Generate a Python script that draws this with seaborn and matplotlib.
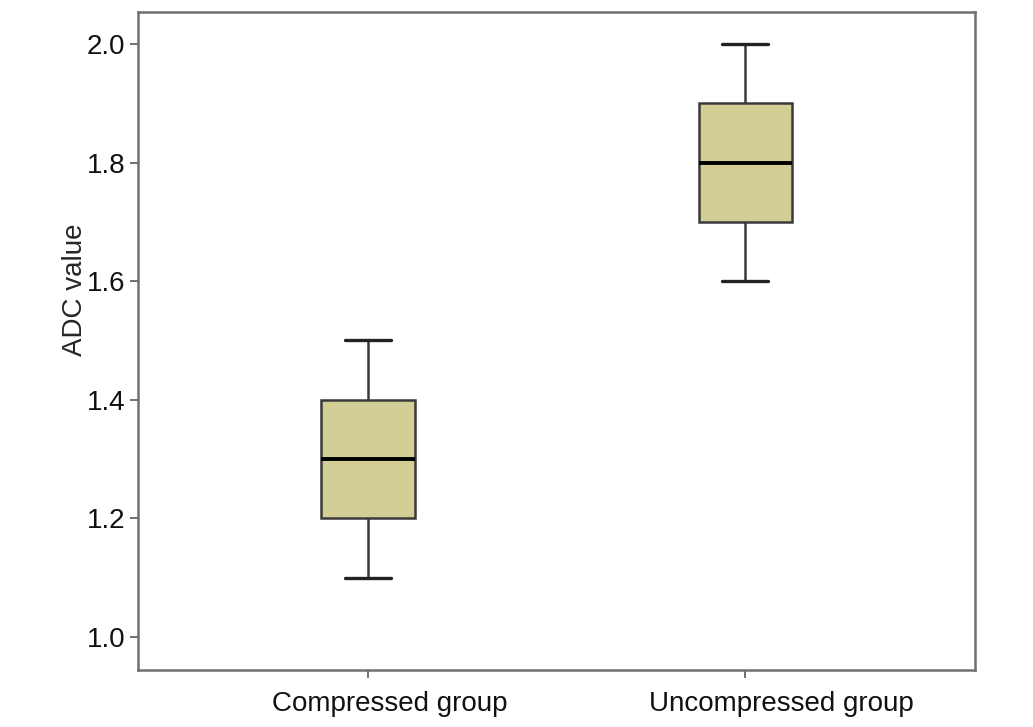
import pandas as pd
import numpy as np
import seaborn as sns
import matplotlib.pyplot as plt
import matplotlib.transforms as mtransforms

# Group labels and the ADC readings behind each box (min, Q1, median, Q3, max)
groups = ["Compressed group", "Uncompressed group"]
compressed_adc = [1.1, 1.2, 1.3, 1.4, 1.5]
uncompressed_adc = [1.6, 1.7, 1.8, 1.9, 2.0]
y_ticks = [1.0, 1.2, 1.4, 1.6, 1.8, 2.0]

df = pd.DataFrame({
    "group": [groups[0]] * len(compressed_adc) + [groups[1]] * len(uncompressed_adc),
    "adc": compressed_adc + uncompressed_adc,
})

sns.set_style("white")
plt.rcParams["font.family"] = ["Liberation Sans", "DejaVu Sans"]

fig = plt.figure(figsize=(10.33, 7.27), dpi=100)
ax = fig.add_axes([0.1336, 0.0784, 0.944 - 0.1336, 0.9835 - 0.0784])

edge = "#3a3a3a"
sns.boxplot(
    data=df, x="group", y="adc", order=groups,
    width=0.247, color="#d3ce96", saturation=1,
    linewidth=1.8, linecolor=edge,
    medianprops=dict(color="black", linewidth=2.8),
    whiskerprops=dict(color=edge, linewidth=1.8),
    capprops=dict(color="#222222", linewidth=2.4),
    boxprops=dict(edgecolor=edge),
    ax=ax,
)

ax.set_xlim(-0.61, 1.61)
ax.set_ylim(0.944, 2.054)
ax.set_yticks(y_ticks)
ax.set_yticklabels([f"{v:.1f}" for v in y_ticks])

ax.set_xlabel("")
ax.set_ylabel("ADC value", fontsize=20)
# label sits a bit above the axes centre in the original
ax.yaxis.set_label_coords(-0.060, 0.5775)

for s in ax.spines.values():
    s.set_visible(True)
    s.set_color("#707070")
    s.set_linewidth(1.8)

ax.tick_params(axis="both", direction="out", length=6, width=1.4,
               color="#707070", labelsize=20, labelcolor="#111111",
               bottom=True, left=True)
ax.tick_params(axis="x", pad=9)
ax.tick_params(axis="y", pad=3)

# SPSS-style: group labels start a fixed distance left of the tick
shift = mtransforms.ScaledTranslation(-96 / 100, 0, fig.dpi_scale_trans)
for lbl in ax.get_xticklabels():
    lbl.set_horizontalalignment("left")
    lbl.set_transform(lbl.get_transform() + shift)

fig.savefig("out.png", dpi=100)
